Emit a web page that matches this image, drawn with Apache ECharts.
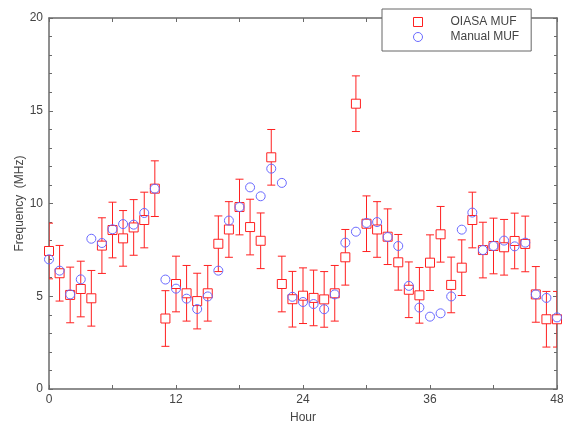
<!DOCTYPE html>
<html>
<head>
<meta charset="utf-8">
<script src="https://cdn.jsdelivr.net/npm/echarts@6/dist/echarts.min.js"></script>
<style>
html,body{margin:0;padding:0;background:#fff;}
#chart{width:563px;height:425px;}
</style>
</head>
<body>
<div id="chart"></div>
<script>
const hours = [0,1,2,3,4,5,6,7,8,9,10,11,12,13,14,15,16,17,18,19,20,21,22,23,24,25,26,27,28,29,30,31,32,33,34,35,36,37,38,39,40,41,42,43,44,45,46,47,48];
const oiasaMuf = [7.44,6.24,5.07,5.39,4.89,7.73,8.57,8.12,8.71,9.11,10.80,3.80,5.66,5.16,4.74,5.16,7.83,8.60,9.81,8.73,7.99,12.49,5.66,4.84,5.03,4.91,4.83,5.16,7.10,15.38,8.91,8.60,8.21,6.83,5.35,5.05,6.81,8.34,5.61,6.54,9.11,7.49,7.71,7.64,7.98,7.82,5.10,3.76,3.76];
const manualMuf = [6.99,6.38,5.10,5.91,8.10,7.87,8.61,8.89,8.86,9.49,10.80,5.90,5.41,4.87,4.31,4.99,6.38,9.08,9.81,10.87,10.39,11.88,11.11,4.97,4.69,4.58,4.30,5.10,7.89,8.48,8.95,9.00,8.19,7.71,5.56,4.39,3.90,4.08,4.99,8.59,9.51,7.49,7.71,8.00,7.69,7.89,5.10,4.91,3.86];
const oiasaErr = 1.5; // +/- MHz error bar half-width
const xTicks = [0,12,24,36,48];
const yTicks = [0,5,10,15,20];

const redColor = '#ff2020';
const blueColor = '#6a6aff';
const axisColor = '#6a6a6a';
const textColor = '#444';
const fontFam = 'Liberation Sans, Arial, sans-serif';

const oiasaData = hours.map((h,i)=>[h, oiasaMuf[i]]);
const manualData = hours.map((h,i)=>[h, manualMuf[i]]);
const errData = hours.map((h,i)=>[h, oiasaMuf[i]-oiasaErr, oiasaMuf[i]+oiasaErr]);

const chart = echarts.init(document.getElementById('chart'), null, {renderer:'canvas'});

const option = {
  backgroundColor:'#fff',
  animation:false,
  grid:{left:49, right:6, top:18, bottom:36, containLabel:false, outerBoundsMode:'none'},
  legend:{
    orient:'vertical',
    left:382, top:9,
    padding:[7,12,8,31],
    itemGap:3,
    itemWidth:9, itemHeight:9,
    backgroundColor:'#fff',
    borderColor:'#666', borderWidth:1,
    textStyle:{color:textColor, fontSize:12, fontFamily:fontFam, padding:[0,0,0,23]},
    data:[
      {name:'OIASA MUF', icon:'rect', itemStyle:{color:'#fff', borderColor:redColor, borderWidth:1}},
      {name:'Manual MUF', icon:'circle', itemStyle:{color:'#fff', borderColor:blueColor, borderWidth:1}}
    ],
    z:20
  },
  xAxis:[
    {
      type:'value', min:0, max:48, interval:12,
      name:'Hour', nameLocation:'middle', nameGap:23, nameMoveOverlap:false,
      nameTextStyle:{color:textColor, fontSize:12, fontFamily:fontFam},
      axisLabel:{color:textColor, fontSize:12, margin:5, fontFamily:fontFam},
      axisLine:{show:true, onZero:false, lineStyle:{color:axisColor, width:1.5}},
      axisTick:{show:true, inside:true, length:4, lineStyle:{color:axisColor}},
      minorTick:{show:true, splitNumber:2, length:4, lineStyle:{color:axisColor}},
      splitLine:{show:false}
    },
    {
      type:'value', min:0, max:48, interval:12, position:'top',
      axisLine:{show:true, onZero:false, lineStyle:{color:axisColor, width:1.5}},
      axisTick:{show:true, inside:true, length:4, lineStyle:{color:axisColor}},
      minorTick:{show:true, splitNumber:2, length:4, lineStyle:{color:axisColor}},
      axisLabel:{show:false},
      splitLine:{show:false}
    }
  ],
  yAxis:[
    {
      type:'value', min:0, max:20, interval:5,
      name:'Frequency  (MHz)', nameLocation:'middle', nameGap:23, nameMoveOverlap:false,
      nameTextStyle:{color:textColor, fontSize:12, fontFamily:fontFam},
      axisLabel:{color:textColor, fontSize:12, margin:6, fontFamily:fontFam},
      axisLine:{show:true, onZero:false, lineStyle:{color:axisColor, width:1.5}},
      axisTick:{show:true, inside:true, length:4, lineStyle:{color:axisColor}},
      minorTick:{show:true, splitNumber:5, length:3, lineStyle:{color:axisColor}},
      splitLine:{show:false}
    },
    {
      type:'value', min:0, max:20, interval:5, position:'right',
      axisLine:{show:true, onZero:false, lineStyle:{color:axisColor, width:1.5}},
      axisTick:{show:true, inside:true, length:4, lineStyle:{color:axisColor}},
      minorTick:{show:true, splitNumber:5, length:3, lineStyle:{color:axisColor}},
      axisLabel:{show:false},
      splitLine:{show:false}
    }
  ],
  series:[
    {
      name:'OIASA error', type:'custom', xAxisIndex:0, yAxisIndex:0,
      data:errData,
      encode:{x:0, y:[1,2]},
      clip:true,
      z:2,
      renderItem:function(params, api){
        const x = api.value(0);
        const lo = api.coord([x, api.value(1)]);
        const hi = api.coord([x, api.value(2)]);
        const hw = 4;
        const st = {stroke:redColor, lineWidth:1};
        return {
          type:'group',
          children:[
            {type:'line', shape:{x1:lo[0], y1:lo[1], x2:hi[0], y2:hi[1]}, style:st},
            {type:'line', shape:{x1:lo[0]-hw, y1:lo[1], x2:lo[0]+hw, y2:lo[1]}, style:st},
            {type:'line', shape:{x1:hi[0]-hw, y1:hi[1], x2:hi[0]+hw, y2:hi[1]}, style:st}
          ]
        };
      }
    },
    {
      name:'OIASA MUF', type:'scatter', xAxisIndex:0, yAxisIndex:0,
      data:oiasaData, symbol:'rect', symbolSize:9,
      itemStyle:{color:'#fff', borderColor:redColor, borderWidth:1, opacity:1},
      z:3
    },
    {
      name:'Manual MUF', type:'scatter', xAxisIndex:0, yAxisIndex:0,
      data:manualData, symbol:'circle', symbolSize:9,
      itemStyle:{color:'rgba(255,255,255,0)', borderColor:blueColor, borderWidth:1, opacity:1},
      z:4
    }
  ]
};
chart.setOption(option);
</script>
</body>
</html>
